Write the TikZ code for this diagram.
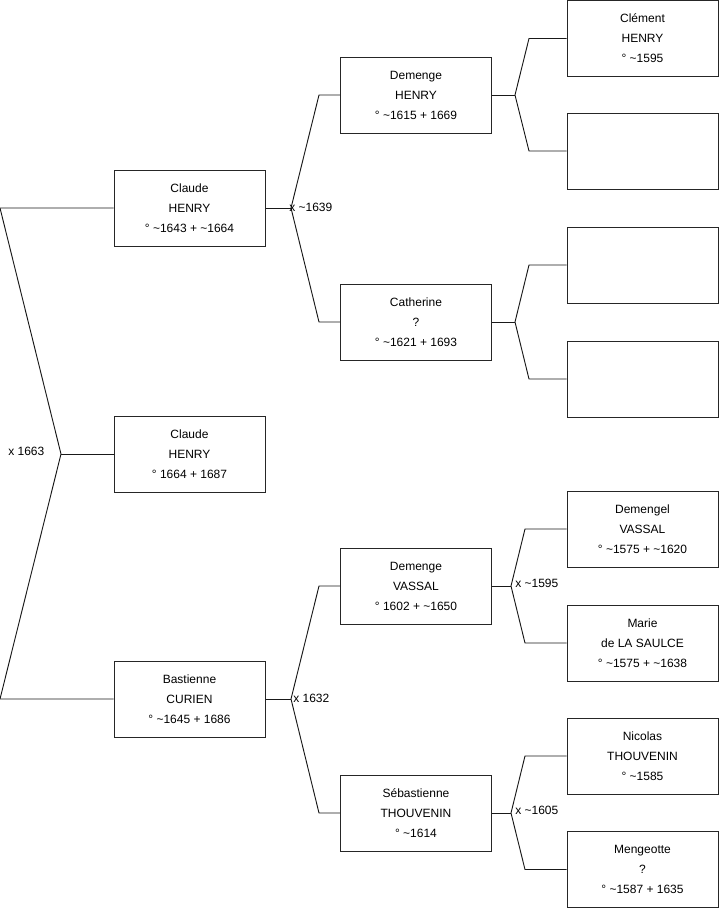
\documentclass[tikz,border=0pt]{standalone}
\usepackage{fontspec}
\setmainfont{Liberation Sans}
\usetikzlibrary{positioning}

\begin{document}
\begin{tikzpicture}[x=0.75pt, y=-0.75pt,
    every node/.style={font=\fontsize{9}{15}\selectfont},
    person/.style={draw=black!85, line width=0.75pt, minimum width=113.25pt,
        minimum height=57pt, align=center, inner sep=0pt},
    link/.style={draw=black!90, line width=0.7pt},
    wedding/.style={anchor=west, inner sep=0pt}]
    \useasboundingbox (0,0) rectangle (719,908);
    % Generation 1
    \node[person] (claudeA) at (189.5,208) {Claude\\HENRY\\° \textasciitilde1643 + \textasciitilde1664};
    \node[person] (claudeB) at (189.5,454) {Claude\\HENRY\\° 1664 + 1687};
    \node[person] (bastienne) at (189.5,699) {Bastienne\\CURIEN\\° \textasciitilde1645 + 1686};
    % Generation 2
    \node[person] (demengeH) at (416,95) {Demenge\\HENRY\\° \textasciitilde1615 + 1669};
    \node[person] (catherine) at (416,322) {Catherine\\?\\° \textasciitilde1621 + 1693};
    \node[person] (demengeV) at (416,586) {Demenge\\VASSAL\\° 1602 + \textasciitilde1650};
    \node[person] (sebastienne) at (416,813) {Sébastienne\\THOUVENIN\\° \textasciitilde1614};
    % Generation 3
    \node[person] (clement) at (642.5,38.5) {Clément\\HENRY\\° \textasciitilde1595};
    \node[person] (unknownA) at (642.5,151) {};
    \node[person] (unknownB) at (642.5,265) {};
    \node[person] (unknownC) at (642.5,379) {};
    \node[person] (demengel) at (642.5,529) {Demengel\\VASSAL\\° \textasciitilde1575 + \textasciitilde1620};
    \node[person] (marie) at (642.5,643) {Marie\\de LA SAULCE\\° \textasciitilde1575 + \textasciitilde1638};
    \node[person] (nicolas) at (642.5,756) {Nicolas\\THOUVENIN\\° \textasciitilde1585};
    \node[person] (mengeotte) at (642.5,869.5) {Mengeotte\\?\\° \textasciitilde1587 + 1635};

    % Couples
    \coordinate (coupleA) at (61,454);
    \coordinate (coupleB) at (291,208);
    \coordinate (coupleC) at (291,699);
    \coordinate (coupleD) at (515,95);
    \coordinate (coupleE) at (515,322);
    \coordinate (coupleF) at (511,586);
    \coordinate (coupleG) at (511,813);

    \draw[link] (claudeA.west) -- (0,208) -- (coupleA) -- (0,699) -- (bastienne.west);
    \draw[link] (coupleA) -- (claudeB.west);
    \draw[link] (claudeA.east) -- (coupleB);
    \draw[link] (demengeH.west) -- (319,95) -- (coupleB) -- (319,322) -- (catherine.west);
    \draw[link] (bastienne.east) -- (coupleC);
    \draw[link] (demengeV.west) -- (319,586) -- (coupleC) -- (319,813) -- (sebastienne.west);
    \draw[link] (demengeH.east) -- (coupleD);
    \draw[link] (clement.west) -- (529,38.5) -- (coupleD) -- (529,151) -- (unknownA.west);
    \draw[link] (catherine.east) -- (coupleE);
    \draw[link] (unknownB.west) -- (529,265) -- (coupleE) -- (529,379) -- (unknownC.west);
    \draw[link] (demengeV.east) -- (coupleF);
    \draw[link] (demengel.west) -- (525,529) -- (coupleF) -- (525,643) -- (marie.west);
    \draw[link] (sebastienne.east) -- (coupleG);
    \draw[link] (nicolas.west) -- (525,756) -- (coupleG) -- (525,869.5) -- (mengeotte.west);

    \node[wedding] (weddingA) at (8,451) {x 1663};
    \node[wedding] (weddingB) at (289,207) {x \textasciitilde1639};
    \node[wedding] (weddingC) at (293,698) {x 1632};
    \node[wedding] (weddingF) at (515,583) {x \textasciitilde1595};
    \node[wedding] (weddingG) at (515,810) {x \textasciitilde1605};
\end{tikzpicture}
\end{document}
